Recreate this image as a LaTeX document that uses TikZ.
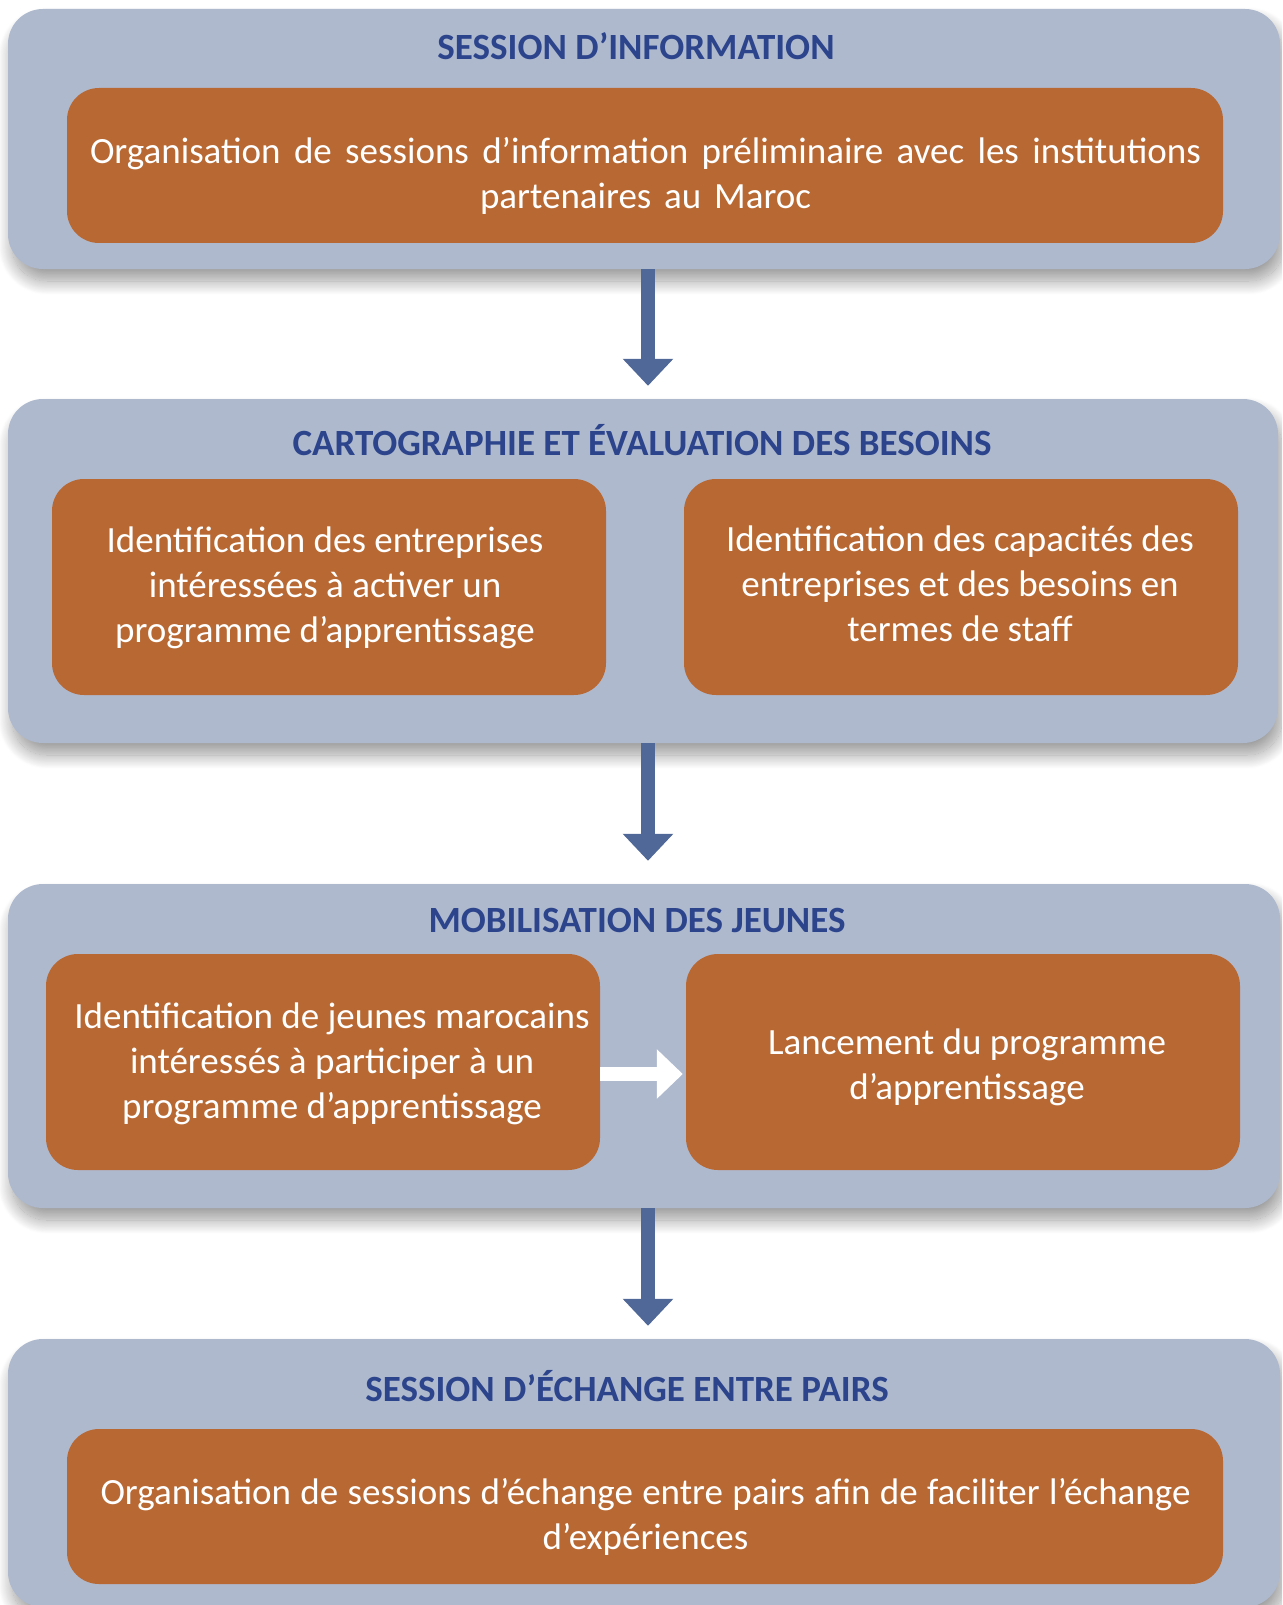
\documentclass[tikz,border=0pt]{standalone}
\usepackage{fontspec}
\setmainfont{Carlito}
\usetikzlibrary{shadows.blur,arrows.meta}
\definecolor{panelbg}{RGB}{174,185,206}
\definecolor{cardbg}{RGB}{184,104,50}
\definecolor{arrowblue}{RGB}{79,104,151}
\definecolor{titleblue}{RGB}{44,68,140}
\tikzset{
  panel/.style={rectangle, fill=panelbg, rounded corners=35pt, inner sep=0pt,
    blur shadow={shadow xshift=4pt, shadow yshift=-12pt, shadow blur radius=14pt, shadow blur steps=24, shadow opacity=40}},
  card/.style={rectangle, fill=cardbg, rounded corners=32pt, inner sep=0pt},
  cardtext/.style={text=white, align=center, inner sep=0pt, font=\fontsize{37}{45}\selectfont},
  paneltitle/.style={text=titleblue, inner sep=0pt, anchor=base, font=\fontsize{37}{45}\selectfont\bfseries},
  flowarrow/.style={draw=arrowblue, line width=14pt, -{Triangle[width=49pt,length=27pt]}},
  innerarrow/.style={draw=white, line width=14pt, -{Triangle[width=48pt,length=26pt]}},
}
\begin{document}
\begin{tikzpicture}[x=1pt,y=-1pt]
\useasboundingbox (0,0) rectangle (1282,1605);
\clip (0,0) rectangle (1282,1605);
% panels
\node[panel, minimum width=1272pt, minimum height=260pt] (p1) at (644,139) {};
\node[panel, minimum width=1270pt, minimum height=344pt] (p2) at (643,571) {};
\node[panel, minimum width=1272pt, minimum height=324pt] (p3) at (644,1046) {};
\node[panel, minimum width=1272pt, minimum height=268pt] (p4) at (644,1473) {};
% cards
\node[card, minimum width=1156pt, minimum height=155pt] (c1) at (645,165.5) {};
\node[card, minimum width=554pt, minimum height=216pt] (c2l) at (329,587) {};
\node[card, minimum width=554pt, minimum height=216pt] (c2r) at (961,587) {};
\node[card, minimum width=554pt, minimum height=216pt] (c3l) at (323,1062) {};
\node[card, minimum width=554pt, minimum height=216pt] (c3r) at (963,1062) {};
\node[card, minimum width=1156pt, minimum height=155pt] (c4) at (645,1506.5) {};
% titles
\node[paneltitle] (t1) at (636,60) {SESSION D’INFORMATION};
\node[paneltitle] (t2) at (642,455) {CARTOGRAPHIE ET ÉVALUATION DES BESOINS};
\node[paneltitle] (t3) at (637,932) {MOBILISATION DES JEUNES};
\node[paneltitle] (t4) at (627,1401) {SESSION D’ÉCHANGE ENTRE PAIRS};
% texts
\node[cardtext] (x1) at (645.5,176) {\makebox[1111pt][s]{Organisation de sessions d’information préliminaire avec les institutions}\\\makebox[331pt][s]{partenaires au Maroc}};
\node[cardtext] (x2l) at (325,588) {Identification des entreprises\\intéressées à activer un\\programme d’apprentissage};
\node[cardtext] (x2r) at (960,584) {Identification des capacités des\\entreprises et des besoins en\\termes de staff};
\node[cardtext] (x3l) at (332,1064) {Identification de jeunes marocains\\intéressés à participer à un\\programme d’apprentissage};
\node[cardtext] (x3r) at (967,1067.5) {Lancement du programme\\d’apprentissage};
\node[cardtext] (x4) at (645.5,1517) {\makebox[1090pt][s]{Organisation de sessions d’échange entre pairs afin de faciliter l’échange}\\d’expériences};
% arrows
\draw[flowarrow, shorten >=13pt] (p1.south -| 648,0) -- (p2.north -| 648,0);
\draw[flowarrow, shorten >=23pt] (p2.south -| 648,0) -- (p3.north -| 648,0);
\draw[flowarrow, shorten >=13pt] (p3.south -| 648,0) -- (p4.north -| 648,0);
\draw[innerarrow, shorten >=3pt] (c3l.east |- 0,1074) -- (c3r.west |- 0,1074);
\end{tikzpicture}
\end{document}
